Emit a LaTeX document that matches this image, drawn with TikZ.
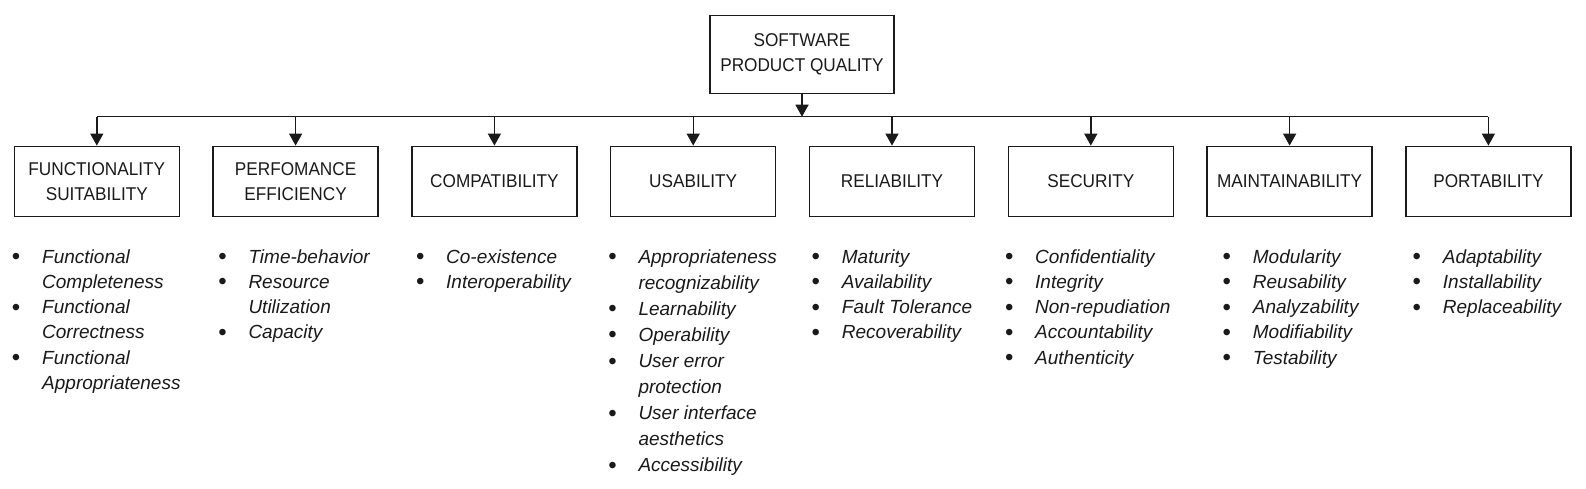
\documentclass[tikz,border=0pt]{standalone}
\usepackage{fontspec}
\setmainfont{Liberation Sans}
\newfontfamily\tfont[FakeStretch=0.93]{Liberation Sans}
\usetikzlibrary{arrows.meta}
\definecolor{ink}{HTML}{1A1A1A}
\newcommand\itm{\llap{\upshape\raisebox{-1.6pt}{\fontsize{24}{0}\selectfont\textbullet}\hspace{21.8pt}}}
\tikzset{
  box/.style={draw=ink, line width=1.4pt, minimum width=165pt, minimum height=70pt,
    inner sep=0pt, align=center, text=ink, font=\tfont\fontsize{18.5}{25}\selectfont},
  topbox/.style={box, minimum width=184pt, minimum height=78pt},
  conn/.style={draw=ink, line width=1.4pt},
  arr/.style={conn, -{Triangle[length=12pt,width=13pt]}},
  lst/.style={anchor=base west, inner sep=0pt, text=ink, font=\itshape\fontsize{19}{25.3}\selectfont},
  lstu/.style={lst, font=\itshape\fontsize{19}{26.1}\selectfont},
}
\begin{document}
\begin{tikzpicture}[x=1pt,y=-1pt]
\useasboundingbox[fill=white] (0,0) rectangle (1586,488);

\node[topbox] (top) at (802,54.2) {SOFTWARE\\PRODUCT QUALITY};
\coordinate (bus) at (0,116.7);

\node[box] (c1) at (96.8,181.3)  {FUNCTIONALITY\\SUITABILITY};
\node[box] (c2) at (295.6,181.3) {PERFOMANCE\\EFFICIENCY};
\node[box] (c3) at (494.4,181.3) {COMPATIBILITY};
\node[box] (c4) at (693.2,181.3) {USABILITY};
\node[box] (c5) at (892.0,181.3) {RELIABILITY};
\node[box] (c6) at (1090.8,181.3) {SECURITY};
\node[box] (c7) at (1289.6,181.3) {MAINTAINABILITY};
\node[box] (c8) at (1488.4,181.3) {PORTABILITY};

\coordinate (j0) at (top.south |- bus);
\foreach \i in {1,...,8} {
  \coordinate (j\i) at (c\i.north |- bus);
}
\draw[arr] (top.south) -- (j0);
\draw[conn] (j1) -- (j8);
\foreach \i in {1,...,8} {
  \draw[arr] (j\i) -- (c\i.north);
}

\node[lst] (l1) at (42,263) {\begin{tabular}[t]{@{}l@{}}
\itm Functional\\ Completeness\\ \itm Functional\\ Correctness\\ \itm Functional\\ Appropriateness
\end{tabular}};
\node[lst] (l2) at (248.3,263) {\begin{tabular}[t]{@{}l@{}}
\itm Time-behavior\\ \itm Resource\\ Utilization\\ \itm Capacity
\end{tabular}};
\node[lst] (l3) at (446,263) {\begin{tabular}[t]{@{}l@{}}
\itm Co-existence\\ \itm Interoperability
\end{tabular}};
\node[lstu] (l4) at (638.3,263) {\begin{tabular}[t]{@{}l@{}}
\itm Appropriateness\\ recognizability\\ \itm Learnability\\ \itm Operability\\ \itm User error\\ protection\\ \itm User interface\\ aesthetics\\ \itm Accessibility
\end{tabular}};
\node[lst] (l5) at (841.7,263) {\begin{tabular}[t]{@{}l@{}}
\itm Maturity\\ \itm Availability\\ \itm Fault Tolerance\\ \itm Recoverability
\end{tabular}};
\node[lst] (l6) at (1035,263) {\begin{tabular}[t]{@{}l@{}}
\itm Confidentiality\\ \itm Integrity\\ \itm Non-repudiation\\ \itm Accountability\\ \itm Authenticity
\end{tabular}};
\node[lst] (l7) at (1252.7,263) {\begin{tabular}[t]{@{}l@{}}
\itm Modularity\\ \itm Reusability\\ \itm Analyzability\\ \itm Modifiability\\ \itm Testability
\end{tabular}};
\node[lst] (l8) at (1442.7,263) {\begin{tabular}[t]{@{}l@{}}
\itm Adaptability\\ \itm Installability\\ \itm Replaceability
\end{tabular}};
\end{tikzpicture}
\end{document}
